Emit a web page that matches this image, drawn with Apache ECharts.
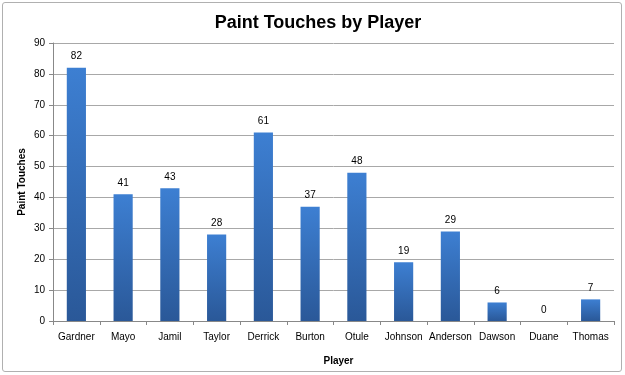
<!DOCTYPE html>
<html><head><meta charset="utf-8">
<script src="https://cdn.jsdelivr.net/npm/echarts@6/dist/echarts.min.js"></script>
<style>html,body{margin:0;padding:0;background:#fff}#c{width:625px;height:375px}
#frame{position:absolute;left:2px;top:2px;width:618px;height:368px;border:1px solid #b0b0b0;border-radius:3px;pointer-events:none}</style>
</head><body><div id="c"></div><div id="frame"></div>
<script>
const categories = ["Gardner","Mayo","Jamil","Taylor","Derrick","Burton","Otule","Johnson","Anderson","Dawson","Duane","Thomas"];
const touches = [82,41,43,28,61,37,48,19,29,6,0,7];
const chart = echarts.init(document.getElementById('c'), null, {renderer:'canvas'});
const font = 'Liberation Sans, Arial, sans-serif';
chart.setOption({
  animation:false,
  title:{text:'Paint Touches by Player',left:313,top:9,textAlign:'center',textStyle:{fontFamily:font,fontSize:18,fontWeight:'bold',color:'#000'}},
  grid:{left:53,right:11,top:43,bottom:54},
  xAxis:{type:'category',data:categories,name:'Player',nameLocation:'middle',nameGap:35,
    nameTextStyle:{fontFamily:font,fontSize:10,fontWeight:'bold',color:'#000',padding:[0,0,0,10]},
    axisLine:{lineStyle:{color:'#888'}},axisTick:{show:true,length:4,lineStyle:{color:'#888'}},
    axisLabel:{interval:0,fontFamily:font,fontSize:10,color:'#000',margin:11}},
  yAxis:{type:'value',min:0,max:90,interval:10,name:'Paint Touches',nameLocation:'middle',nameGap:26,nameMoveOverlap:false,
    nameTextStyle:{fontFamily:font,fontSize:10,fontWeight:'bold',color:'#000'},
    axisLine:{show:true,lineStyle:{color:'#888'}},axisTick:{show:true,length:4,lineStyle:{color:'#888'}},
    axisLabel:{fontFamily:font,fontSize:10,color:'#000',margin:8},
    splitLine:{lineStyle:{color:'#a8a8a8'}}},
  series:[{type:'bar',data:touches,barWidth:'41%',
    itemStyle:{color:new echarts.graphic.LinearGradient(0,0,0,1,[{offset:0,color:'#3d7fd2'},{offset:1,color:'#2a5898'}])},
    label:{show:true,position:'top',distance:6,fontFamily:font,fontSize:10,color:'#000'}}]
});
</script></body></html>
